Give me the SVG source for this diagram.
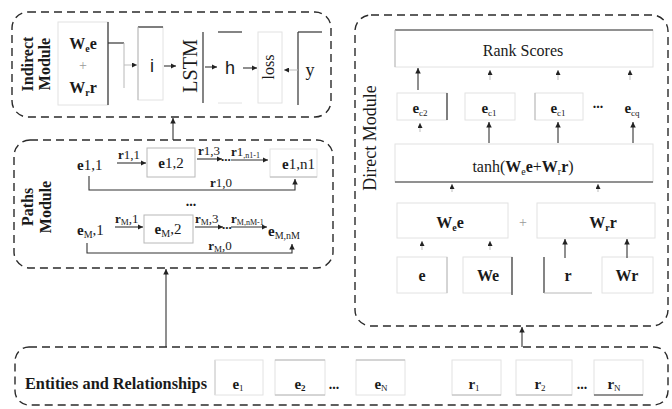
<svg xmlns="http://www.w3.org/2000/svg" width="672" height="409" viewBox="0 0 672 409">
  <defs>
    <marker id="ah" viewBox="0 0 6 6" refX="6" refY="3" markerWidth="5" markerHeight="5" orient="auto">
      <path d="M0,0 L6,3 L0,6 z" fill="#222"/>
    </marker>
    <style>
      text { font-family: "Liberation Serif", "Times New Roman", serif; fill: #1a1a1a; }
      .sans { font-family: "Liberation Sans", Arial, sans-serif; }
      .b { font-weight: bold; }
      .mod { fill: none; stroke: #2a2a2a; stroke-width: 1.4; stroke-dasharray: 8 5; }
      .faint { fill: none; stroke: #e2e2e2; stroke-width: 1; }
      .lite { fill: none; stroke: #b8b8b8; stroke-width: 1; }
      .dark { fill: none; stroke: #333; stroke-width: 1.2; }
      .arr { fill: none; stroke: #333; stroke-width: 1.1; marker-end: url(#ah); }
      .garr { fill: none; stroke: #bdbdbd; stroke-width: 1; marker-end: url(#ah); }
      .mid { text-anchor: middle; }
    </style>
  </defs>
  <rect width="672" height="409" fill="#ffffff"/>

  <!-- Indirect module -->
  <g id="indirect-module">
    <rect class="mod" x="12" y="12" width="319" height="105" rx="16"/>
    <text class="b mid" font-size="16" transform="translate(27,64) rotate(-90)" dominant-baseline="central">Indirect</text>
    <text class="b mid" font-size="16" transform="translate(44,64) rotate(-90)" dominant-baseline="central">Module</text>
  </g>
  <g id="node-wsum">
    <rect class="faint" x="58" y="22" width="50" height="83"/>
    <line class="dark" x1="108" y1="22" x2="108" y2="105"/>
    <text class="b mid" x="83" y="49" font-size="16">W<tspan font-size="10" dy="3">e</tspan><tspan dy="-3">e</tspan></text>
    <text class="mid" x="83" y="70" font-size="14" fill="#999" style="fill:#999">+</text>
    <text class="b mid" x="83" y="93" font-size="16">W<tspan font-size="10" dy="3">r</tspan><tspan dy="-3">r</tspan></text>
  </g>
  <g id="node-i">
    <rect class="faint" x="138" y="27" width="25" height="73"/>
    <line class="dark" x1="138" y1="27" x2="163" y2="27"/>
    <line class="lite" x1="138" y1="27" x2="138" y2="100"/>
    <text class="sans mid" x="152" y="72" font-size="18">i</text>
  </g>
  <g id="node-lstm">
    <text class="mid" font-size="20" transform="translate(190,66) rotate(-90)" dominant-baseline="central">LSTM</text>
    <line class="dark" x1="203" y1="32" x2="203" y2="103"/>
  </g>
  <g id="node-h">
    <line class="dark" x1="218" y1="32" x2="242" y2="32"/>
    <line class="faint" x1="218" y1="103" x2="242" y2="103"/>
    <text class="sans mid" x="230" y="74" font-size="18">h</text>
  </g>
  <g id="node-loss">
    <rect class="faint" x="258" y="32" width="24" height="71"/>
    <text class="mid" font-size="16" transform="translate(268,67) rotate(-90)" dominant-baseline="central">l<tspan>oss</tspan></text>
  </g>
  <g id="node-y">
    <line class="dark" x1="298" y1="32" x2="298" y2="105"/>
    <line class="dark" x1="298" y1="32" x2="322" y2="32"/>
    <text class="mid" x="310" y="76" font-size="18">y</text>
  </g>

  <!-- Paths module -->
  <g id="paths-module">
    <rect class="mod" x="14" y="140" width="319" height="128" rx="16"/>
    <text class="b mid" font-size="16" transform="translate(27,207) rotate(-90)" dominant-baseline="central">Paths</text>
    <text class="b mid" font-size="16" transform="translate(45,207) rotate(-90)" dominant-baseline="central">Module</text>
  </g>
  <g id="node-e11">
    <text x="77" y="170" font-size="15"><tspan class="b">e</tspan>1,1</text>
  </g>
  <g id="node-e12">
    <rect class="lite" x="147" y="148" width="48" height="29"/>
    <text class="mid" x="171" y="168" font-size="15"><tspan class="b">e</tspan>1,2</text>
  </g>
  <g id="node-e1n1">
    <rect class="faint" x="270" y="149" width="47" height="28"/>
    <line class="lite" x1="270" y1="177" x2="317" y2="177"/>
    <text x="282" y="169" font-size="15"><tspan class="b">e</tspan>1,n1</text>
  </g>
  <text x="191" y="206" class="b mid" font-size="14">...</text>
  <g id="node-eM1">
    <text x="77" y="235" font-size="15"><tspan class="b">e</tspan><tspan font-size="10" dy="3">M</tspan><tspan dy="-3">,1</tspan></text>
  </g>
  <g id="node-eM2">
    <rect class="lite" x="144" y="215" width="49" height="28"/>
    <text class="mid" x="168" y="234" font-size="15"><tspan class="b">e</tspan><tspan font-size="10" dy="3">M</tspan><tspan dy="-3">,2</tspan></text>
  </g>
  <g id="node-eMnM">
    <text x="268" y="236" font-size="15"><tspan class="b">e</tspan><tspan font-size="10" dy="3">M,nM</tspan></text>
  </g>

  <!-- Direct module -->
  <g id="direct-module">
    <rect class="mod" x="355" y="15" width="313" height="311" rx="16"/>
    <text class="mid" font-size="18" transform="translate(370,138) rotate(-90)" dominant-baseline="central">Direct Module</text>
  </g>
  <g id="node-rank">
    <rect class="faint" x="395" y="30" width="258" height="37"/>
    <line class="dark" x1="395" y1="30" x2="653" y2="30"/>
    <line class="lite" x1="395" y1="30" x2="395" y2="67"/>
    <text class="mid" x="523" y="56" font-size="16">Rank Scores</text>
  </g>
  <g id="node-ec2">
    <rect class="faint" x="397" y="93" width="50" height="27"/>
    <line class="dark" x1="447" y1="93" x2="447" y2="120"/>
    <text class="mid" x="420" y="113" font-size="15"><tspan class="b">e</tspan><tspan font-size="9" dy="3">c2</tspan></text>
  </g>
  <g id="node-ec1a">
    <rect class="faint" x="465" y="93" width="50" height="27"/>
    <text class="mid" x="489" y="113" font-size="15"><tspan class="b">e</tspan><tspan font-size="9" dy="3">c1</tspan></text>
  </g>
  <g id="node-ec1b">
    <rect class="faint" x="535" y="93" width="48" height="27"/>
    <line class="lite" x1="535" y1="93" x2="535" y2="120"/>
    <text class="mid" x="558" y="113" font-size="15"><tspan class="b">e</tspan><tspan font-size="9" dy="3">c1</tspan></text>
  </g>
  <text class="b mid" x="598" y="108" font-size="14">...</text>
  <g id="node-ecq">
    <text class="mid" x="632" y="113" font-size="15"><tspan class="b">e</tspan><tspan font-size="9" dy="3">cq</tspan></text>
  </g>
  <g id="node-tanh">
    <rect class="faint" x="395" y="144" width="258" height="38"/>
    <line class="dark" x1="395" y1="182" x2="653" y2="182"/>
    <text class="mid" x="523" y="172" font-size="16">tanh(<tspan class="b">W</tspan><tspan font-size="10" dy="3">e</tspan><tspan class="b" dy="-3">e</tspan>+<tspan class="b">W</tspan><tspan font-size="10" dy="3">r</tspan><tspan class="b" dy="-3">r</tspan>)</text>
  </g>
  <g id="node-wee">
    <rect class="faint" x="397" y="203" width="111" height="35"/>
    <text class="b mid" x="450" y="228" font-size="16">W<tspan font-size="10" dy="3">e</tspan><tspan dy="-3">e</tspan></text>
  </g>
  <text class="mid" x="523" y="227" font-size="14" style="fill:#999">+</text>
  <g id="node-wrr">
    <rect class="faint" x="537" y="203" width="118" height="35"/>
    <text class="b mid" x="603" y="228" font-size="16">W<tspan font-size="10" dy="3">r</tspan><tspan dy="-3">r</tspan></text>
  </g>
  <g id="node-e">
    <rect class="faint" x="397" y="257" width="50" height="36"/>
    <line class="lite" x1="447" y1="257" x2="447" y2="293"/>
    <text class="b mid" x="422" y="281" font-size="16">e</text>
  </g>
  <g id="node-we">
    <rect class="faint" x="463" y="257" width="49" height="36"/>
    <line class="dark" x1="512" y1="257" x2="512" y2="295"/>
    <text class="b mid" x="488" y="281" font-size="16">We</text>
  </g>
  <g id="node-r">
    <line class="dark" x1="544" y1="257" x2="544" y2="293"/>
    <line class="lite" x1="544" y1="293" x2="592" y2="293"/>
    <text class="b mid" x="568" y="281" font-size="16">r</text>
  </g>
  <g id="node-wr">
    <rect class="faint" x="602" y="257" width="51" height="36"/>
    <text class="b mid" x="627" y="281" font-size="16">Wr</text>
  </g>

  <!-- Entities and relationships -->
  <g id="entities-module">
    <rect class="mod" x="15" y="347" width="653" height="58" rx="14"/>
    <text class="b" x="25" y="389" font-size="16" textLength="182" lengthAdjust="spacingAndGlyphs">Entities and Relationships</text>
    <line class="lite" x1="215" y1="360" x2="215" y2="395"/>
  </g>
  <g id="node-e1">
    <rect class="faint" x="215" y="360" width="48" height="35"/>
    <text class="b mid" x="238" y="389" font-size="15">e<tspan font-size="9" dy="2" font-weight="normal">1</tspan></text>
  </g>
  <g id="node-e2">
    <rect class="faint" x="275" y="360" width="50" height="35"/>
    <line class="lite" x1="275" y1="360" x2="325" y2="360"/>
    <line class="lite" x1="275" y1="395" x2="325" y2="395"/>
    <text class="b mid" x="300" y="389" font-size="15">e<tspan font-size="9" dy="2">2</tspan></text>
  </g>
  <text class="b mid" x="334" y="389" font-size="14">...</text>
  <g id="node-eN">
    <rect class="faint" x="356" y="360" width="49" height="35"/>
    <line class="lite" x1="356" y1="360" x2="405" y2="360"/>
    <text class="b mid" x="381" y="389" font-size="15">e<tspan font-size="9" dy="2" font-weight="normal">N</tspan></text>
  </g>
  <g id="node-r1">
    <rect class="faint" x="452" y="360" width="49" height="35"/>
    <line class="lite" x1="452" y1="395" x2="501" y2="395"/>
    <text class="b mid" x="474" y="389" font-size="15">r<tspan font-size="9" dy="2" font-weight="normal">1</tspan></text>
  </g>
  <g id="node-r2">
    <rect class="faint" x="516" y="360" width="56" height="35"/>
    <line class="lite" x1="516" y1="395" x2="572" y2="395"/>
    <text class="b mid" x="540" y="389" font-size="15">r<tspan font-size="9" dy="2" font-weight="normal">2</tspan></text>
  </g>
  <text class="b mid" x="582" y="389" font-size="14">...</text>
  <g id="node-rN">
    <rect class="faint" x="594" y="360" width="49" height="35"/>
    <line class="dark" x1="594" y1="395" x2="643" y2="395"/>
    <text class="b mid" x="614" y="389" font-size="15">r<tspan font-size="9" dy="2" font-weight="normal">N</tspan></text>
  </g>

  <!-- Connectors -->
  <g id="connectors">
    <!-- indirect module chain -->
    <polyline class="dark" points="108,43 124,43"/>
    <line class="lite" x1="124" y1="43" x2="124" y2="88"/>
    <line class="garr" x1="124" y1="65" x2="137" y2="65"/>
    <line class="arr" x1="164" y1="66" x2="176" y2="66"/>
    <line class="arr" x1="205" y1="67" x2="217" y2="67"/>
    <line class="arr" x1="243" y1="68" x2="257" y2="68"/>
    <line class="garr" x1="298" y1="70" x2="284" y2="70"/>
    <!-- module links -->
    <line class="arr" x1="173" y1="140" x2="173" y2="118"/>
    <line class="arr" x1="166" y1="347" x2="166" y2="269"/>
    <line class="arr" x1="522" y1="347" x2="522" y2="327"/>
    <!-- path 1 -->
    <line class="arr" x1="117" y1="163" x2="146" y2="163"/>
    <text x="118" y="159" font-size="13"><tspan class="b">r</tspan>1,1</text>
    <line class="arr" x1="197" y1="159" x2="222" y2="159"/>
    <text x="198" y="155" font-size="13"><tspan class="b">r</tspan>1,3</text>
    <text x="221" y="161" class="b" font-size="13">...</text>
    <line class="arr" x1="231" y1="160" x2="268" y2="160"/>
    <text x="231" y="156" font-size="13"><tspan class="b">r</tspan>1<tspan font-size="8" dy="2">,n1-1</tspan></text>
    <polyline class="arr" points="89,176 89,190 295,190 295,179"/>
    <text class="mid" x="221" y="187" font-size="13"><tspan class="b">r</tspan>1,0</text>
    <!-- path M -->
    <line class="arr" x1="115" y1="227" x2="143" y2="227"/>
    <text x="115" y="223" font-size="13"><tspan class="b">r</tspan><tspan font-size="9" dy="2">M</tspan><tspan dy="-2">,1</tspan></text>
    <line class="arr" x1="195" y1="227" x2="223" y2="227"/>
    <text x="195" y="223" font-size="13"><tspan class="b">r</tspan><tspan font-size="9" dy="2">M</tspan><tspan dy="-2">,3</tspan></text>
    <text x="222" y="229" class="b" font-size="13">...</text>
    <line class="arr" x1="231" y1="227" x2="267" y2="227"/>
    <text x="231" y="223" font-size="13"><tspan class="b">r</tspan><tspan font-size="8" dy="2">M,nM-1</tspan></text>
    <polyline class="arr" points="87,243 87,253 292,253 292,244"/>
    <text class="mid" x="220" y="250" font-size="13"><tspan class="b">r</tspan><tspan font-size="9" dy="2">M</tspan><tspan dy="-2">,0</tspan></text>
    <!-- direct module: e boxes to rank scores -->
    <line class="arr" x1="418" y1="90" x2="418" y2="68"/>
    <line class="garr" x1="490" y1="80" x2="490" y2="70"/>
    <line class="garr" x1="558" y1="80" x2="558" y2="70"/>
    <line class="garr" x1="630" y1="80" x2="630" y2="70"/>
    <!-- tanh to e boxes -->
    <line class="garr" x1="420" y1="132" x2="420" y2="123"/>
    <line class="arr" x1="489" y1="143" x2="489" y2="122"/>
    <line class="arr" x1="558" y1="143" x2="558" y2="122"/>
    <line class="arr" x1="633" y1="143" x2="633" y2="122"/>
    <!-- weighted terms to tanh -->
    <line class="garr" x1="452" y1="192" x2="452" y2="184"/>
    <line class="garr" x1="598" y1="192" x2="598" y2="184"/>
    <!-- inputs to weighted terms -->
    <line class="garr" x1="422" y1="250" x2="422" y2="241"/>
    <line class="garr" x1="490" y1="250" x2="490" y2="241"/>
    <line class="arr" x1="565" y1="258" x2="565" y2="239"/>
    <line class="arr" x1="627" y1="258" x2="627" y2="239"/>
  </g>
</svg>
